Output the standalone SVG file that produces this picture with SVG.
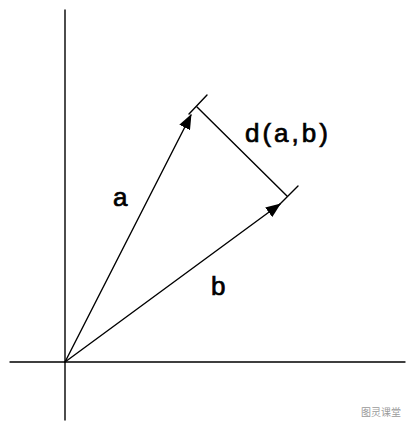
<svg xmlns="http://www.w3.org/2000/svg" width="416" height="429" viewBox="0 0 416 429">
<style>
.ln{stroke:#000;stroke-width:1.4;fill:none;stroke-linecap:round}
.lbl{font-family:"Liberation Sans","DejaVu Sans",sans-serif;font-size:26px;fill:#000;stroke:#000;stroke-width:0.7}
.wm{font-family:"Noto Sans CJK SC",sans-serif;font-size:10px;fill:#9a9a9a}
</style>
<defs>
<marker id="ah" markerWidth="15" markerHeight="12" refX="14" refY="6" orient="auto" markerUnits="userSpaceOnUse">
<path d="M0,0 L15,6 L0,12 Z" fill="#000"/>
</marker>
</defs>
<rect width="416" height="429" fill="#fff"/>
<g id="axes">
<line class="ln" x1="65" y1="10" x2="65" y2="420"/>
<line class="ln" x1="10" y1="362" x2="405" y2="362"/>
</g>
<g id="connectors">
<line class="ln" x1="65" y1="362" x2="191" y2="115" marker-end="url(#ah)"/>
<line class="ln" x1="65" y1="362" x2="280" y2="204" marker-end="url(#ah)"/>
<line class="ln" x1="197" y1="107" x2="287" y2="196"/>
<line class="ln" x1="207" y1="95" x2="189" y2="114"/>
<line class="ln" x1="298" y1="186" x2="278" y2="206"/>
</g>
<g id="labels">
<text class="lbl" x="245" y="142" letter-spacing="3">d(a,b)</text>
<text class="lbl" x="113" y="206">a</text>
<text class="lbl" x="211" y="295">b</text>
</g>
<text class="wm" x="361" y="416">图灵课堂</text>
</svg>
